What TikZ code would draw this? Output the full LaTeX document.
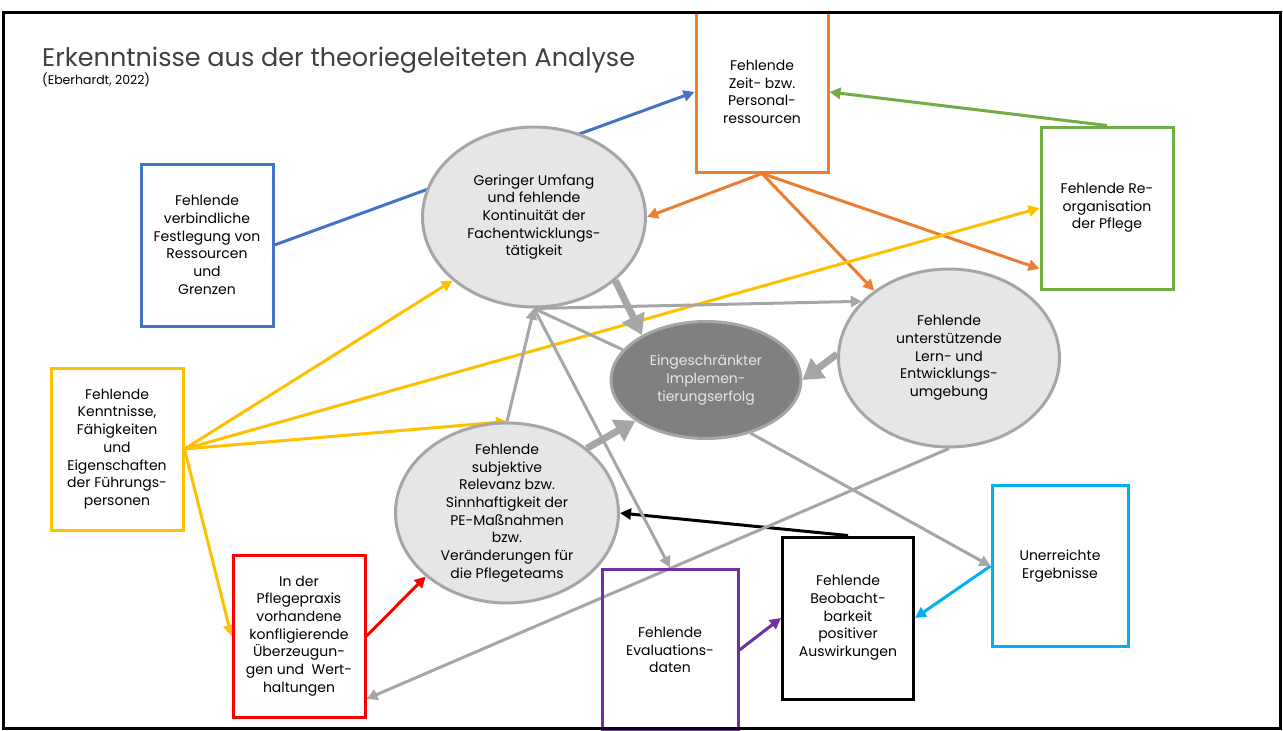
\documentclass[tikz,border=0pt]{standalone}
\usepackage{fontspec}
\setmainfont{Poppins}
\usetikzlibrary{arrows.meta,shapes.geometric,backgrounds}
\definecolor{cOrange}{HTML}{ED7D31}
\definecolor{cBlue}{HTML}{4472C4}
\definecolor{cGreen}{HTML}{70AD47}
\definecolor{cYellow}{HTML}{FFC000}
\definecolor{cRed}{HTML}{FF0000}
\definecolor{cPurple}{HTML}{7030A0}
\definecolor{cCyan}{HTML}{00B0F0}
\definecolor{cGrayLine}{HTML}{A6A6A6}
\definecolor{cGrayFill}{HTML}{E6E6E6}
\definecolor{cGrayDark}{HTML}{808080}
\definecolor{cTitle}{HTML}{404040}

\begin{document}
\begin{tikzpicture}[x=1pt, y=-1pt,
    box/.style={draw, line width=3pt, minimum width=132pt, minimum height=162pt,
      inner sep=0pt, align=center, font=\fontsize{14}{17.7}\selectfont},
    oval/.style={ellipse, draw=cGrayLine, fill=cGrayFill, line width=3pt,
      minimum width=223pt, minimum height=180pt, inner sep=0pt, align=center,
      font=\fontsize{14}{17.7}\selectfont},
    link/.style={line width=3pt, -{Triangle[length=11pt,width=11pt]}},
    fat/.style={draw=cGrayLine, line width=7pt, -{Triangle[length=20pt,width=24pt]}}]
  \useasboundingbox (0,0) rectangle (1283,731);

  \node[anchor=base west, inner sep=0pt, text=cTitle, font=\fontsize{25.5}{30}\selectfont]
    (Titel) at (42,66) {Erkenntnisse aus der theoriegeleiteten Analyse};
  \node[anchor=base west, inner sep=0pt, font=\fontsize{12.5}{14}\selectfont]
    (Quelle) at (42,84) {(Eberhardt, 2022)};

  \node[box, draw=cBlue] (Fest) at (207,245)
    {Fehlende\\verbindliche\\Festlegung von\\Ressourcen\\und\\Grenzen};
  \node[box, draw=cYellow] (Kennt) at (117,449)
    {Fehlende\\Kenntnisse,\\Fähigkeiten\\und\\Eigenschaften\\der Führungs-\\personen};
  \node[box, draw=cRed] (Praxis) at (299,636)
    {In der\\Pflegepraxis\\vorhandene\\konfligierende\\Überzeugun-\\gen und \ Wert-\\haltungen};
  \node[box, draw=cOrange, minimum height=160pt] (Zeit) at (762,92)
    {Fehlende\\Zeit- bzw.\\Personal-\\ressourcen};
  \node[box, draw=cGreen] (Reorg) at (1107,208)
    {Fehlende Re-\\organisation\\der Pflege};
  \node[box, draw=cPurple, minimum width=136pt] (Eval) at (670,650)
    {Fehlende\\Evaluations-\\daten};
  \node[box, draw=black, minimum width=131pt] (Beob) at (848,618)
    {Fehlende\\Beobacht-\\barkeit\\positiver\\Auswirkungen};
  \node[box, draw=cCyan, minimum width=136pt, minimum height=161pt] (Uner) at (1060,566)
    {Unerreichte\\Ergebnisse};

  \node[oval] (Umfang) at (534,217)
    {Geringer Umfang\\und fehlende\\Kontinuität der\\Fachentwicklungs-\\tätigkeit};
  \node[oval, inner ysep=-8pt] (Relevanz) at (507,513)
    {Fehlende\\subjektive\\Relevanz bzw.\\Sinnhaftigkeit der\\PE-Maßnahmen\\bzw.\\Veränderungen für\\die Pflegeteams};
  \node[oval, fill=cGrayDark, text=cGrayFill, minimum width=190pt, minimum height=117pt]
    (Erfolg) at (706,380) {Eingeschränkter\\Implemen-\\tierungserfolg};
  \node[oval, minimum width=221pt, minimum height=178pt] (Umgebung) at (949,358)
    {Fehlende\\unterstützende\\Lern- und\\Entwicklungs-\\umgebung};

  \begin{scope}[on background layer]
    \draw[link, cBlue] (Fest.east) -- (Zeit.west);
    \draw[link, cGreen] (Reorg.north) -- (Zeit.east);

    \draw[link, cOrange] (Zeit.south) -- (Umfang.east);
    \draw[link, cOrange] (Zeit.south) -- (Umgebung.138);
    \draw[link, cOrange] (Zeit.south) -- (Reorg.222);

    \draw[link, cYellow] (Kennt.east) -- (Umfang.218);
    \draw[link, cYellow] (Kennt.east) -- (Reorg.west);
    \draw[link, cYellow] (Kennt.east) -- (Relevanz.north);
    \draw[link, cYellow] (Kennt.east) -- (Praxis.west);

    \draw[link, cRed] (Praxis.east) -- (Relevanz.218);
    \draw[link, black] (Beob.north) -- (Relevanz.east);
    \draw[link, cPurple] (Eval.east) -- (Beob.west);
    \draw[link, cCyan] (Uner.west) -- (Beob.east);

    \draw[link, cGrayLine] (Umfang.south) -- (Umgebung.147);
    \draw[link, cGrayLine] (Relevanz.north) -- (Umfang.south);
    \draw[cGrayLine, line width=3pt] (Umfang.south) -- (Erfolg.160);
    \draw[link, cGrayLine] (Umfang.south) -- (Eval.north);
    \draw[link, cGrayLine] (Erfolg.-50) -- (Uner.west);
    \draw[link, cGrayLine] (Umgebung.south) -- (Praxis.-43);

    \draw[fat] (Umfang.-38) -- (Erfolg.145);
    \draw[fat] (Relevanz.39) -- (Erfolg.210);
    \draw[fat] (Umgebung.178) -- (Erfolg.east);
  \end{scope}

  \draw[line width=3pt] (3,12) rectangle (1280,728);
\end{tikzpicture}
\end{document}
